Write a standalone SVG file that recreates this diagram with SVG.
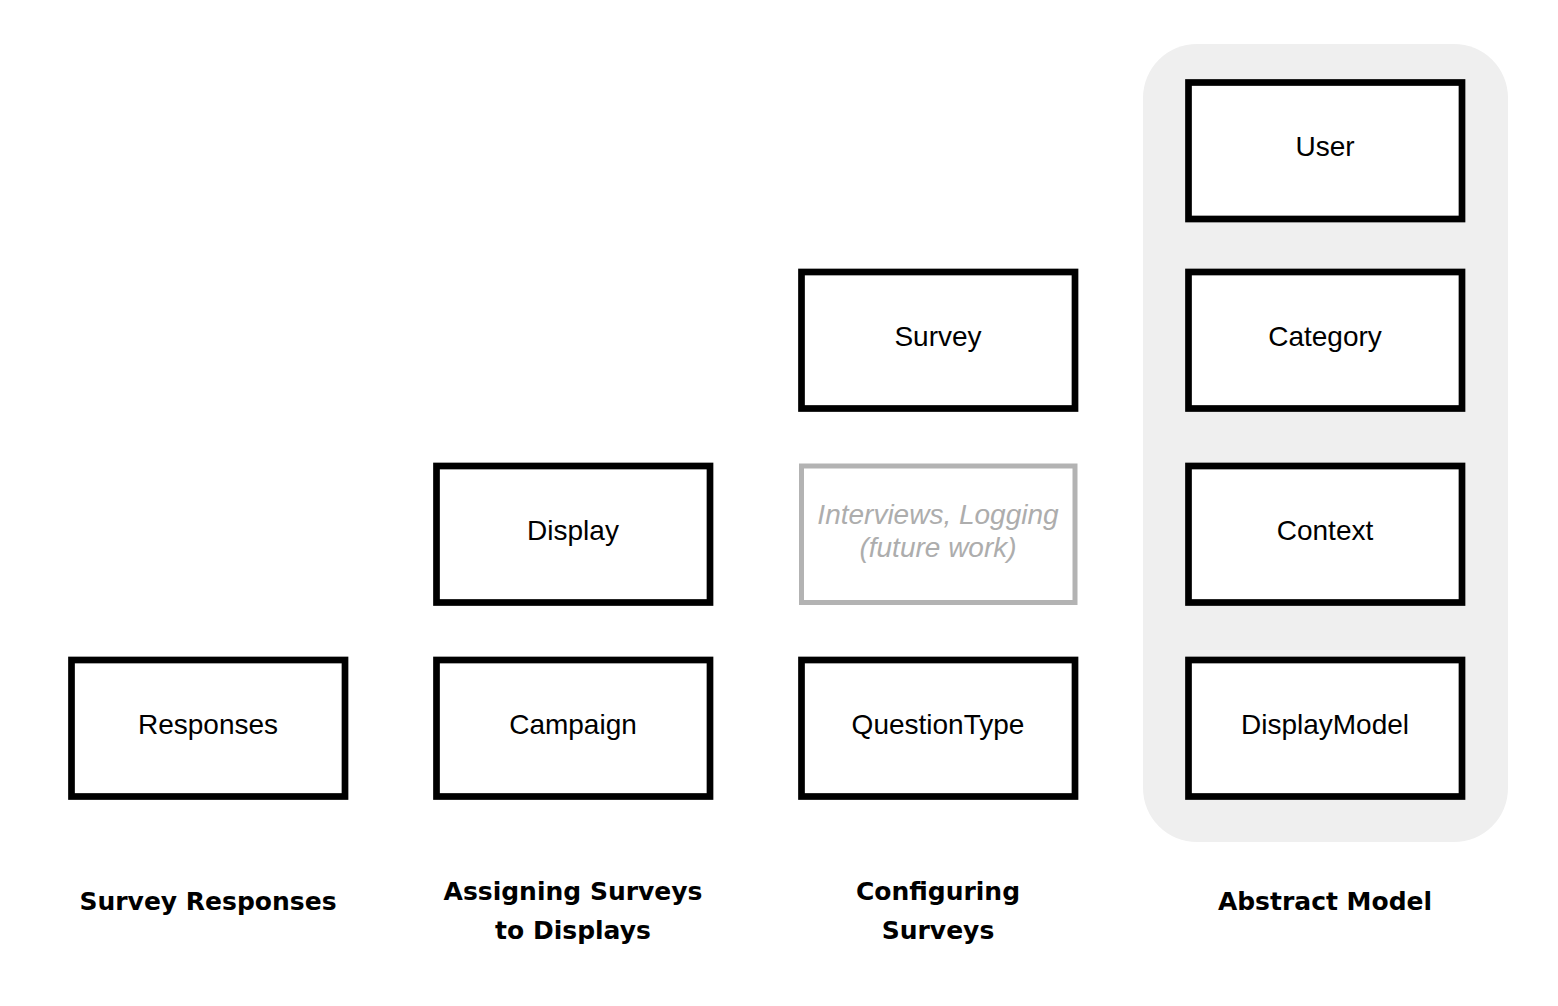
<svg xmlns="http://www.w3.org/2000/svg" width="1558" height="1006" viewBox="0 0 1558 1006">
<style>
.box{fill:#fff;stroke:#000;stroke-width:6.7}
.fut{fill:#fff;stroke:#b3b3b3;stroke-width:5}
.lbl{font-family:"Liberation Sans",Arial,sans-serif;font-size:28px;fill:#000;text-anchor:middle}
.flbl{font-family:"Liberation Sans",Arial,sans-serif;font-size:28px;font-style:italic;fill:#adadad;text-anchor:middle}
.hdr{font-family:"DejaVu Sans",sans-serif;font-weight:bold;font-size:25px;fill:#000;text-anchor:middle}
</style>
<rect width="1558" height="1006" fill="#fff"/>
<g id="abstract-model-group">
<rect x="1143" y="44" width="365" height="798" rx="54" ry="54" fill="#efefef"/>
</g>
<g id="connectors"></g>
<g id="user"><rect class="box" x="1188.5" y="82.5" width="273.5" height="136.5"/><text class="lbl" x="1325" y="156">User</text></g>
<g id="category"><rect class="box" x="1188.5" y="272" width="273.5" height="136.5"/><text class="lbl" x="1325" y="346">Category</text></g>
<g id="context"><rect class="box" x="1188.5" y="466" width="273.5" height="136.5"/><text class="lbl" x="1325" y="540">Context</text></g>
<g id="displaymodel"><rect class="box" x="1188.5" y="660" width="273.5" height="136.5"/><text class="lbl" x="1325" y="734">DisplayModel</text></g>
<g id="survey"><rect class="box" x="801.5" y="272" width="273.5" height="136.5"/><text class="lbl" x="938" y="346">Survey</text></g>
<g id="future"><rect class="fut" x="801.5" y="466" width="273.5" height="136.5"/><text class="flbl" x="938" y="524">Interviews, Logging</text><text class="flbl" x="938" y="557">(future work)</text></g>
<g id="questiontype"><rect class="box" x="801.5" y="660" width="273.5" height="136.5"/><text class="lbl" x="938" y="734">QuestionType</text></g>
<g id="display"><rect class="box" x="436.5" y="466" width="273.5" height="136.5"/><text class="lbl" x="573" y="540">Display</text></g>
<g id="campaign"><rect class="box" x="436.5" y="660" width="273.5" height="136.5"/><text class="lbl" x="573" y="734">Campaign</text></g>
<g id="responses"><rect class="box" x="71.5" y="660" width="273.5" height="136.5"/><text class="lbl" x="208" y="734">Responses</text></g>
<g id="labels">
<text class="hdr" x="208" y="910">Survey Responses</text>
<text class="hdr" x="573" y="900">Assigning Surveys</text>
<text class="hdr" x="573" y="939">to Displays</text>
<text class="hdr" x="938" y="900">Configuring</text>
<text class="hdr" x="938" y="939">Surveys</text>
<text class="hdr" x="1325" y="910">Abstract Model</text>
</g>
</svg>
